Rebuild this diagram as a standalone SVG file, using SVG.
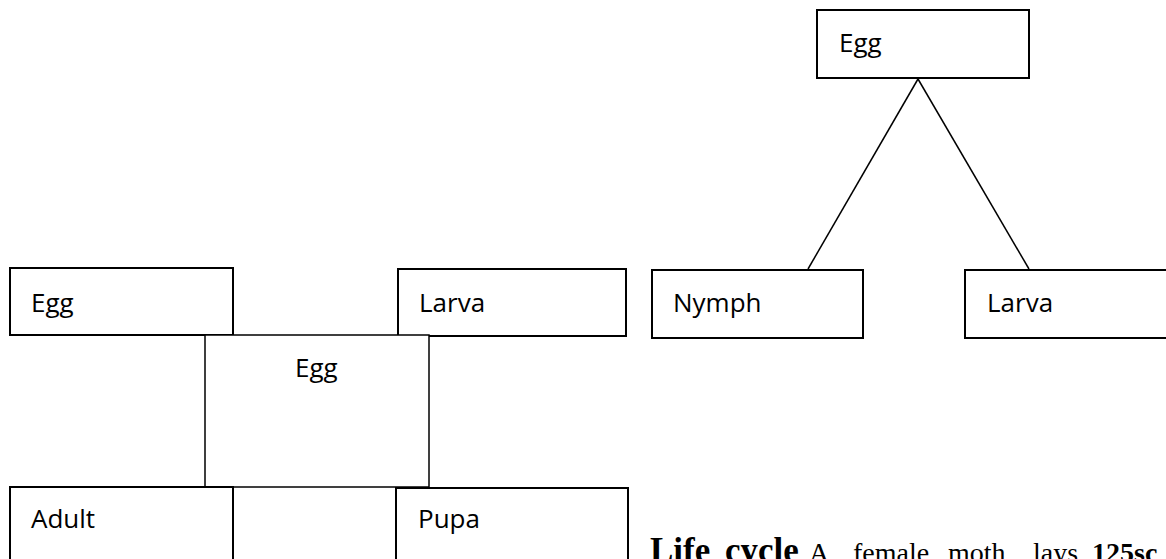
<svg xmlns="http://www.w3.org/2000/svg" width="1166" height="559" viewBox="0 0 1166 559">
  <style>
    .box { fill: #ffffff; stroke: #000000; stroke-width: 2; }
    .label { font-family: "Open Sans", "Liberation Sans", sans-serif; font-size: 26px; fill: #000000; }
    .link { stroke: #000000; stroke-width: 1.5; fill: none; }
    .body { font-family: "Liberation Serif", "Times New Roman", serif; font-size: 28px; fill: #000000; }
    .strong { font-weight: bold; }
  </style>
  <rect x="0" y="0" width="1166" height="559" fill="#ffffff"/>

  <!-- connectors of the three-way cycle -->
  <g id="connectors">
    <line class="link" x1="918" y1="79" x2="808" y2="269"/>
    <line class="link" x1="918" y1="79" x2="1029" y2="269"/>
  </g>

  <!-- four-stage cycle -->
  <g id="node-egg-left">
    <rect class="box" x="10" y="268" width="223" height="67"/>
    <text class="label" x="31" y="312">Egg</text>
  </g>
  <g id="node-larva-left">
    <rect class="box" x="398" y="269" width="228" height="67"/>
    <text class="label" x="419" y="312">Larva</text>
  </g>
  <g id="node-egg-centre">
    <rect class="box" x="205" y="335" width="224" height="152" style="stroke-width:1.5"/>
    <text class="label" x="295" y="377">Egg</text>
  </g>
  <g id="node-adult">
    <rect class="box" x="10" y="487" width="223" height="90"/>
    <text class="label" x="31" y="528">Adult</text>
  </g>
  <g id="node-pupa">
    <rect class="box" x="396" y="488" width="232" height="90"/>
    <text class="label" x="418" y="528">Pupa</text>
  </g>

  <!-- three-stage cycle -->
  <g id="node-egg-top">
    <rect class="box" x="817" y="10" width="212" height="68"/>
    <text class="label" x="839" y="52">Egg</text>
  </g>
  <g id="node-nymph">
    <rect class="box" x="652" y="270" width="211" height="68"/>
    <text class="label" x="673" y="312">Nymph</text>
  </g>
  <g id="node-larva-right">
    <rect class="box" x="965" y="270" width="220" height="68"/>
    <text class="label" x="987" y="312">Larva</text>
  </g>

  <!-- running text below the cycles -->
  <text class="body" y="562">
    <tspan class="strong" x="650" style="font-size:35px">Life</tspan>
    <tspan class="strong" x="725" style="font-size:35px">cycle</tspan>
    <tspan x="809">A</tspan>
    <tspan x="853">female</tspan>
    <tspan x="948">moth</tspan>
    <tspan x="1033">lays</tspan>
    <tspan class="strong" x="1092">125sc</tspan>
  </text>
</svg>
